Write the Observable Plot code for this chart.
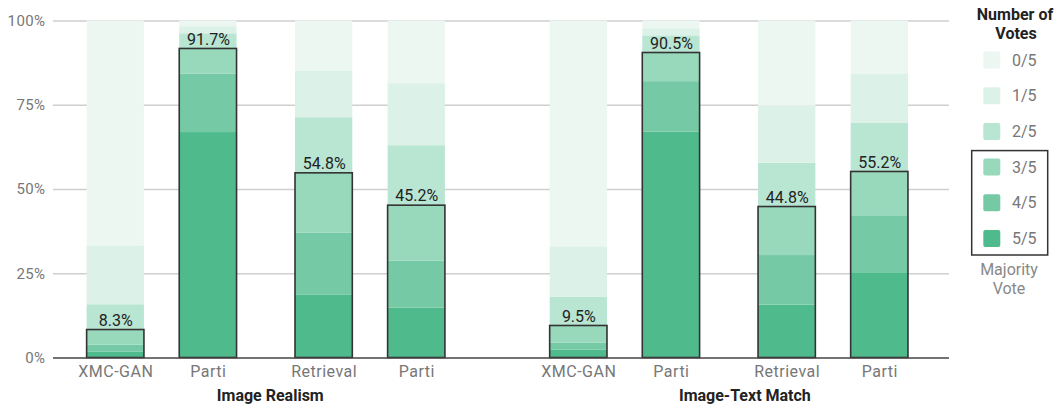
<!DOCTYPE html>
<html><head><meta charset="utf-8">
<script src="https://cdn.jsdelivr.net/npm/d3@7"></script>
<script src="https://cdn.jsdelivr.net/npm/@observablehq/plot@0.6"></script>
<style>
body{margin:0;background:#fff;font-family:Roboto,sans-serif;}
#wrap{position:relative;width:1063px;height:404px;overflow:hidden;}
#wrap svg{position:absolute;top:0;}
g[aria-label="x-axis tick label"] text{letter-spacing:0.5px;}
g[aria-label="y-axis tick label"] text{letter-spacing:0.4px;}
</style></head><body><div id="wrap"></div>
<script>
const metrics = ["Image Realism", "Image-Text Match"];
const models = ["XMC-GAN", "Parti", "Retrieval", "Parti"];
const voteLevels = ["0/5", "1/5", "2/5", "3/5", "4/5", "5/5"];
const majorityLevels = ["3/5", "4/5", "5/5"];
const yTicks = [0, 25, 50, 75, 100];
// percent of prompts per number of votes, one entry per bar (left to right)
const votes5 = [1.7, 66.9, 18.6, 14.8, 2.3, 67.0, 15.7, 25.3];
const votes4 = [2.1, 17.3, 18.4, 13.9, 2.1, 15.0, 14.7, 16.9];
const votes3 = [4.5, 7.5, 17.8, 16.5, 5.1, 8.5, 14.4, 13.0];
const votes2 = [7.5, 4.5, 16.5, 17.8, 8.5, 5.1, 13.0, 14.4];
const votes1 = [17.3, 2.1, 13.9, 18.4, 15.0, 2.1, 16.9, 14.7];
const votes0 = [66.9, 1.7, 14.8, 18.6, 67.0, 2.3, 25.3, 15.7];
const colors = ["#edf7f2", "#dcf1e8", "#b9e5d3", "#98d9bc", "#75c9a5", "#4fbb8c"];

const byLevel = {"0/5": votes0, "1/5": votes1, "2/5": votes2, "3/5": votes3, "4/5": votes4, "5/5": votes5};

// layout in slot units
const barStep = 4, pairStep = 9, groupStep = 20, halfW = 1.2376;
const bars = [];
metrics.forEach((metric, m) => {
  models.forEach((model, j) => {
    const i = m * models.length + j;
    const pos = m * groupStep + Math.floor(j / 2) * pairStep + (j % 2) * barStep;
    const majority = majorityLevels.reduce((s, l) => s + byLevel[l][i], 0);
    bars.push({i, metric, model, pos, majority: Math.round(majority * 10) / 10});
  });
});
const segments = [];
bars.forEach(b => {
  let cum = 0;
  voteLevels.slice().reverse().forEach(level => {
    const v = byLevel[level][b.i];
    segments.push({pos: b.pos, level, y1: cum, y2: cum + v});
    cum += v;
  });
});
const tickLabel = new Map(bars.map(b => [b.pos, b.model]));
const groups = metrics.map((metric, m) => {
  const ps = bars.filter(b => b.metric === metric).map(b => b.pos);
  return {metric, pos: (d3.min(ps) + d3.max(ps)) / 2 + m * 0.5};
});

const chart = Plot.plot({
  width: 950, height: 404,
  marginLeft: 53, marginRight: 1, marginTop: 20.5, marginBottom: 46.5,
  x: {domain: [-2.69, 36.01], axis: null},
  y: {domain: [0, 100], axis: null},
  color: {domain: voteLevels, range: colors},
  style: {fontFamily: "Roboto, sans-serif", fontSize: "15px", background: "#fff"},
  marks: [
    Plot.gridY(yTicks.slice(1), {stroke: "#cfcfcf", strokeOpacity: 1, strokeWidth: 1.3}),
    Plot.axisY(yTicks, {tickSize: 0, tickPadding: 8, tickFormat: d => d + "%", fill: "#777", fontSize: 15, label: null}),
    Plot.rect(segments, {x1: d => d.pos - halfW, x2: d => d.pos + halfW, y1: "y1", y2: "y2", fill: "level"}),
    Plot.rect(bars, {x1: d => d.pos - halfW, x2: d => d.pos + halfW, y1: 0, y2: "majority", fill: "none", stroke: "#333", strokeWidth: 1.6}),
    Plot.text(bars, {x: "pos", y: "majority", text: d => d.majority.toFixed(1) + "%", dy: -9.5, fontSize: 16, fill: "#222"}),
    Plot.ruleY([0], {stroke: "#444", strokeWidth: 1.6}),
    Plot.axisX(bars.map(b => b.pos), {tickSize: 0, tickPadding: 8, tickFormat: p => tickLabel.get(p), fill: "#777", fontSize: 16, label: null}),
    Plot.text(groups, {x: "pos", text: "metric", frameAnchor: "bottom", lineAnchor: "middle", dy: 37.5, dx: 4, fontWeight: "bold", fontSize: 16, fill: "#222"})
  ]
});
chart.style.left = "0px";
document.getElementById("wrap").appendChild(chart);

// legend
const lg = d3.select("#wrap").append("svg")
  .attr("width", 113).attr("height", 404)
  .style("left", "950px")
  .attr("font-family", "Roboto, sans-serif");
lg.append("text").attr("x", 65).attr("y", 14).attr("dy", "0.35em").attr("text-anchor", "middle")
  .attr("font-weight", "bold").attr("font-size", 16).attr("fill", "#222").text("Number of");
lg.append("text").attr("x", 66).attr("y", 33).attr("dy", "0.35em").attr("text-anchor", "middle")
  .attr("font-weight", "bold").attr("font-size", 16).attr("fill", "#222").text("Votes");
const rowY = l => 60 + voteLevels.indexOf(l) * 35.7;
voteLevels.forEach((l, k) => {
  lg.append("rect").attr("x", 33.3).attr("y", rowY(l) - 8.5).attr("width", 17).attr("height", 17)
    .attr("rx", 2).attr("fill", colors[k]);
  lg.append("text").attr("x", 62).attr("y", rowY(l)).attr("dy", "0.35em")
    .attr("font-size", 16).attr("fill", "#777").text(l);
});
lg.append("rect").attr("x", 21.7).attr("y", rowY(majorityLevels[0]) - 16.5).attr("width", 76)
  .attr("height", rowY(majorityLevels[2]) - rowY(majorityLevels[0]) + 33)
  .attr("fill", "none").attr("stroke", "#333").attr("stroke-width", 1.5);
lg.append("text").attr("x", 59).attr("y", 269).attr("dy", "0.35em").attr("text-anchor", "middle")
  .attr("font-size", 16).attr("fill", "#888").text("Majority");
lg.append("text").attr("x", 59).attr("y", 288).attr("dy", "0.35em").attr("text-anchor", "middle")
  .attr("font-size", 16).attr("fill", "#888").text("Vote");
</script></body></html>
